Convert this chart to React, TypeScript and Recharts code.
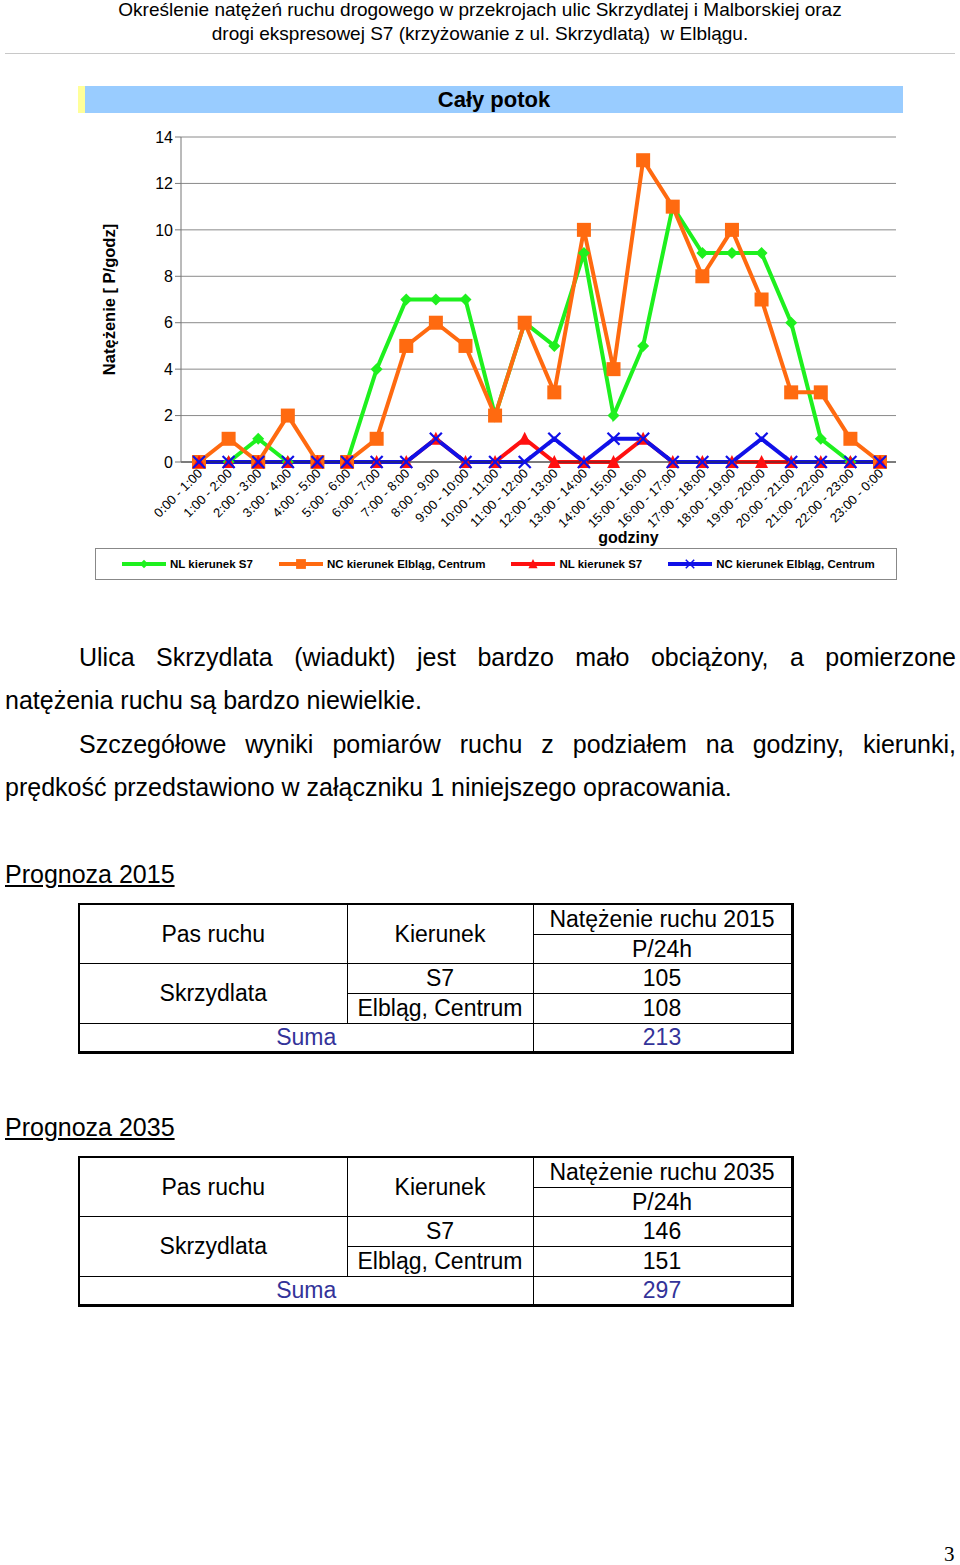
import React from "react";
import { LineChart, Line, XAxis, YAxis, CartesianGrid, Label } from "recharts";

const hours = [
  "0:00 - 1:00", "1:00 - 2:00", "2:00 - 3:00", "3:00 - 4:00", "4:00 - 5:00", "5:00 - 6:00",
  "6:00 - 7:00", "7:00 - 8:00", "8:00 - 9:00", "9:00 - 10:00", "10:00 - 11:00", "11:00 - 12:00",
  "12:00 - 13:00", "13:00 - 14:00", "14:00 - 15:00", "15:00 - 16:00", "16:00 - 17:00", "17:00 - 18:00",
  "18:00 - 19:00", "19:00 - 20:00", "20:00 - 21:00", "21:00 - 22:00", "22:00 - 23:00", "23:00 - 0:00",
];

const nlS7Green = [0, 0, 1, 0, 0, 0, 4, 7, 7, 7, 2, 6, 5, 9, 2, 5, 11, 9, 9, 9, 6, 1, 0, 0];
const ncElblagOrange = [0, 1, 0, 2, 0, 0, 1, 5, 6, 5, 2, 6, 3, 10, 4, 13, 11, 8, 10, 7, 3, 3, 1, 0];
const nlS7Red = [0, 0, 0, 0, 0, 0, 0, 0, 1, 0, 0, 1, 0, 0, 0, 1, 0, 0, 0, 0, 0, 0, 0, 0];
const ncElblagBlue = [0, 0, 0, 0, 0, 0, 0, 0, 1, 0, 0, 0, 1, 0, 1, 1, 0, 0, 0, 1, 0, 0, 0, 0];

const seriesNames = ["NL kierunek S7", "NC kierunek Elbląg, Centrum", "NL kierunek S7", "NC kierunek Elbląg, Centrum"];
const yTicks = [0, 2, 4, 6, 8, 10, 12, 14];

const data = hours.map((hour, i) => ({
  hour,
  g: nlS7Green[i],
  o: ncElblagOrange[i],
  r: nlS7Red[i],
  b: ncElblagBlue[i],
}));

const FONT = "'Liberation Sans', Arial, sans-serif";
const GREEN = "#1ef01e";
const ORANGE = "#ff6a10";
const RED = "#ff1010";
const BLUE = "#1010e8";
const COLORS = [GREEN, ORANGE, RED, BLUE];

// markers
function Diamond({ cx, cy, fill }: any) {
  return <path d={`M${cx},${cy - 6}L${cx + 6},${cy}L${cx},${cy + 6}L${cx - 6},${cy}Z`} fill={fill} />;
}
function Square({ cx, cy, fill }: any) {
  return <rect x={cx - 7} y={cy - 7} width={14} height={14} fill={fill} />;
}
function Triangle({ cx, cy, fill }: any) {
  return <path d={`M${cx},${cy - 7}L${cx + 6.5},${cy + 6}L${cx - 6.5},${cy + 6}Z`} fill={fill} />;
}
function Cross({ cx, cy, stroke }: any) {
  return (
    <g stroke={stroke} strokeWidth={2.2}>
      <line x1={cx - 6} y1={cy - 6} x2={cx + 6} y2={cy + 6} />
      <line x1={cx - 6} y1={cy + 6} x2={cx + 6} y2={cy - 6} />
    </g>
  );
}
const MARKERS = [Diamond, Square, Triangle, Cross];

const dotFor = (idx: number) => (p: any) => {
  const M = MARKERS[idx];
  return <M key={`m${idx}-${p.index}`} cx={p.cx} cy={p.cy} fill={COLORS[idx]} stroke={COLORS[idx]} />;
};

function HourTick({ x, y, payload }: any) {
  const tx = x + 1;
  const ty = y + 9;
  return (
    <text x={tx} y={ty} transform={`rotate(-45, ${tx}, ${ty})`} textAnchor="end" dy="0.35em"
      fontSize={13} fontFamily={FONT} fill="#000">
      {payload.value}
    </text>
  );
}

function LegendItem({ idx }: { idx: number }) {
  const M = MARKERS[idx];
  return (
    <div style={{ display: "flex", alignItems: "center" }}>
      <svg width={44} height={14}>
        <line x1={0} y1={7} x2={44} y2={7} stroke={COLORS[idx]} strokeWidth={4} />
        <g transform="translate(22,7) scale(0.7) translate(-22,-7)">
          <M cx={22} cy={7} fill={COLORS[idx]} stroke={COLORS[idx]} />
        </g>
      </svg>
      <span style={{ marginLeft: 4, fontSize: 11.5, fontWeight: "bold" }}>{seriesNames[idx]}</span>
    </div>
  );
}

function ForecastTable({ top, year, s7, elblag, total }: any) {
  const cell: React.CSSProperties = {
    border: "1px solid #000",
    padding: 0,
    textAlign: "center",
    verticalAlign: "middle",
    lineHeight: "26px",
  };
  const blue = { ...cell, color: "#333399" };
  return (
    <table
      style={{
        position: "absolute", left: 78, top, width: 715, borderCollapse: "collapse",
        fontFamily: FONT, fontSize: 23, borderTop: "2px solid #000", borderLeft: "2px solid #000",
        borderRight: "3px solid #000", borderBottom: "3px solid #000", tableLayout: "fixed",
      }}
    >
      <colgroup>
        <col style={{ width: 268 }} />
        <col style={{ width: 186 }} />
        <col style={{ width: 259 }} />
      </colgroup>
      <tbody>
        <tr style={{ height: 30 }}>
          <td rowSpan={2} style={cell}>Pas ruchu</td>
          <td rowSpan={2} style={cell}>Kierunek</td>
          <td style={cell}>Natężenie ruchu {year}</td>
        </tr>
        <tr style={{ height: 29 }}>
          <td style={cell}>P/24h</td>
        </tr>
        <tr style={{ height: 30 }}>
          <td rowSpan={2} style={cell}>Skrzydlata</td>
          <td style={cell}>S7</td>
          <td style={cell}>{s7}</td>
        </tr>
        <tr style={{ height: 30 }}>
          <td style={cell}>Elbląg, Centrum</td>
          <td style={cell}>{elblag}</td>
        </tr>
        <tr style={{ height: 29 }}>
          <td colSpan={2} style={blue}>Suma</td>
          <td style={blue}>{total}</td>
        </tr>
      </tbody>
    </table>
  );
}

const abs = (left: number, top: number, extra: React.CSSProperties = {}): React.CSSProperties => ({
  position: "absolute", left, top, ...extra,
});

export default function App() {
  return (
    <div style={{ position: "absolute", left: 0, top: 0, width: 960, height: 1565, background: "#fff", fontFamily: FONT, color: "#000", overflow: "hidden" }}>
      {/* page header */}
      <div style={abs(0, -2, { width: 960, textAlign: "center", fontSize: 19, lineHeight: "24px" })}>
        Określenie natężeń ruchu drogowego w przekrojach ulic Skrzydlatej i Malborskiej oraz
      </div>
      <div style={abs(0, 22, { width: 960, textAlign: "center", fontSize: 19, lineHeight: "24px", whiteSpace: "pre" })}>
        {"drogi ekspresowej S7 (krzyżowanie z ul. Skrzydlatą)  w Elblągu."}
      </div>
      <div style={abs(5, 53, { width: 950, height: 1, background: "#c8c8c8" })} />

      {/* chart title bar */}
      <div style={abs(78, 86, { width: 7, height: 27, background: "#ffff99" })} />
      <div style={abs(85, 86, { width: 818, height: 27, background: "#99ccff", textAlign: "center", fontSize: 22, fontWeight: "bold", lineHeight: "27px" })}>
        Cały potok
      </div>

      <div style={abs(78, 115)}>
        <LineChart width={830} height={480} data={data} margin={{ top: 22, right: 12, bottom: 43, left: 53 }}>
          <CartesianGrid vertical={false} stroke="#8a8a8a" />
          <XAxis dataKey="hour" interval={0} tick={<HourTick />} tickLine={false} tickSize={0} tickMargin={0}
            height={90} padding={{ left: 18, right: 16 }} axisLine={{ stroke: "#333" }}>
            <Label position="insideBottom" offset={9} dx={90} value="godziny"
              style={{ fontSize: 16, fontWeight: "bold", fontFamily: FONT, fill: "#000" }} />
          </XAxis>
          <YAxis domain={[0, 14]} ticks={yTicks} width={50} axisLine={{ stroke: "#777" }} tickLine={{ stroke: "#777" }}
            tick={{ fontSize: 16, fill: "#000", fontFamily: FONT }}>
            <Label angle={-90} position="center" dx={-47} value="Natężenie [ P/godz]"
              style={{ fontSize: 16.5, fontWeight: "bold", fontFamily: FONT, fill: "#000" }} />
          </YAxis>
          <Line dataKey="g" stroke={GREEN} strokeWidth={4} dot={dotFor(0)} isAnimationActive={false} />
          <Line dataKey="o" stroke={ORANGE} strokeWidth={4} dot={dotFor(1)} isAnimationActive={false} />
          <Line dataKey="r" stroke={RED} strokeWidth={4} dot={dotFor(2)} isAnimationActive={false} />
          <Line dataKey="b" stroke={BLUE} strokeWidth={4} dot={dotFor(3)} isAnimationActive={false} />
        </LineChart>
      </div>

      {/* legend */}
      <div style={abs(95, 548, { width: 802, height: 32, border: "1px solid #888", display: "flex", alignItems: "center", paddingLeft: 26, gap: 26, boxSizing: "border-box" })}>
        {[0, 1, 2, 3].map((i) => <LegendItem key={i} idx={i} />)}
      </div>

      {/* body text */}
      <div style={abs(79, 642, { width: 877, fontSize: 25, lineHeight: "30px", textAlign: "justify", textAlignLast: "justify" as any })}>
        Ulica Skrzydlata (wiadukt) jest bardzo mało obciążony, a pomierzone
      </div>
      <div style={abs(5, 685, { fontSize: 25, lineHeight: "30px", whiteSpace: "nowrap" })}>
        natężenia ruchu są bardzo niewielkie.
      </div>
      <div style={abs(79, 729, { width: 877, fontSize: 25, lineHeight: "30px", textAlign: "justify", textAlignLast: "justify" as any })}>
        Szczegółowe wyniki pomiarów ruchu z podziałem na godziny, kierunki,
      </div>
      <div style={abs(5, 772, { fontSize: 25, lineHeight: "30px", whiteSpace: "nowrap" })}>
        prędkość przedstawiono w załączniku 1 niniejszego opracowania.
      </div>

      <div style={abs(5, 859, { fontSize: 25, lineHeight: "30px", textDecoration: "underline" })}>Prognoza 2015</div>
      <ForecastTable top={903} year={2015} s7={105} elblag={108} total={213} />

      <div style={abs(5, 1112, { fontSize: 25, lineHeight: "30px", textDecoration: "underline" })}>Prognoza 2035</div>
      <ForecastTable top={1156} year={2035} s7={146} elblag={151} total={297} />

      <div style={abs(944, 1542, { fontSize: 21, fontFamily: "'Liberation Serif', 'Times New Roman', serif" })}>3</div>
    </div>
  );
}
